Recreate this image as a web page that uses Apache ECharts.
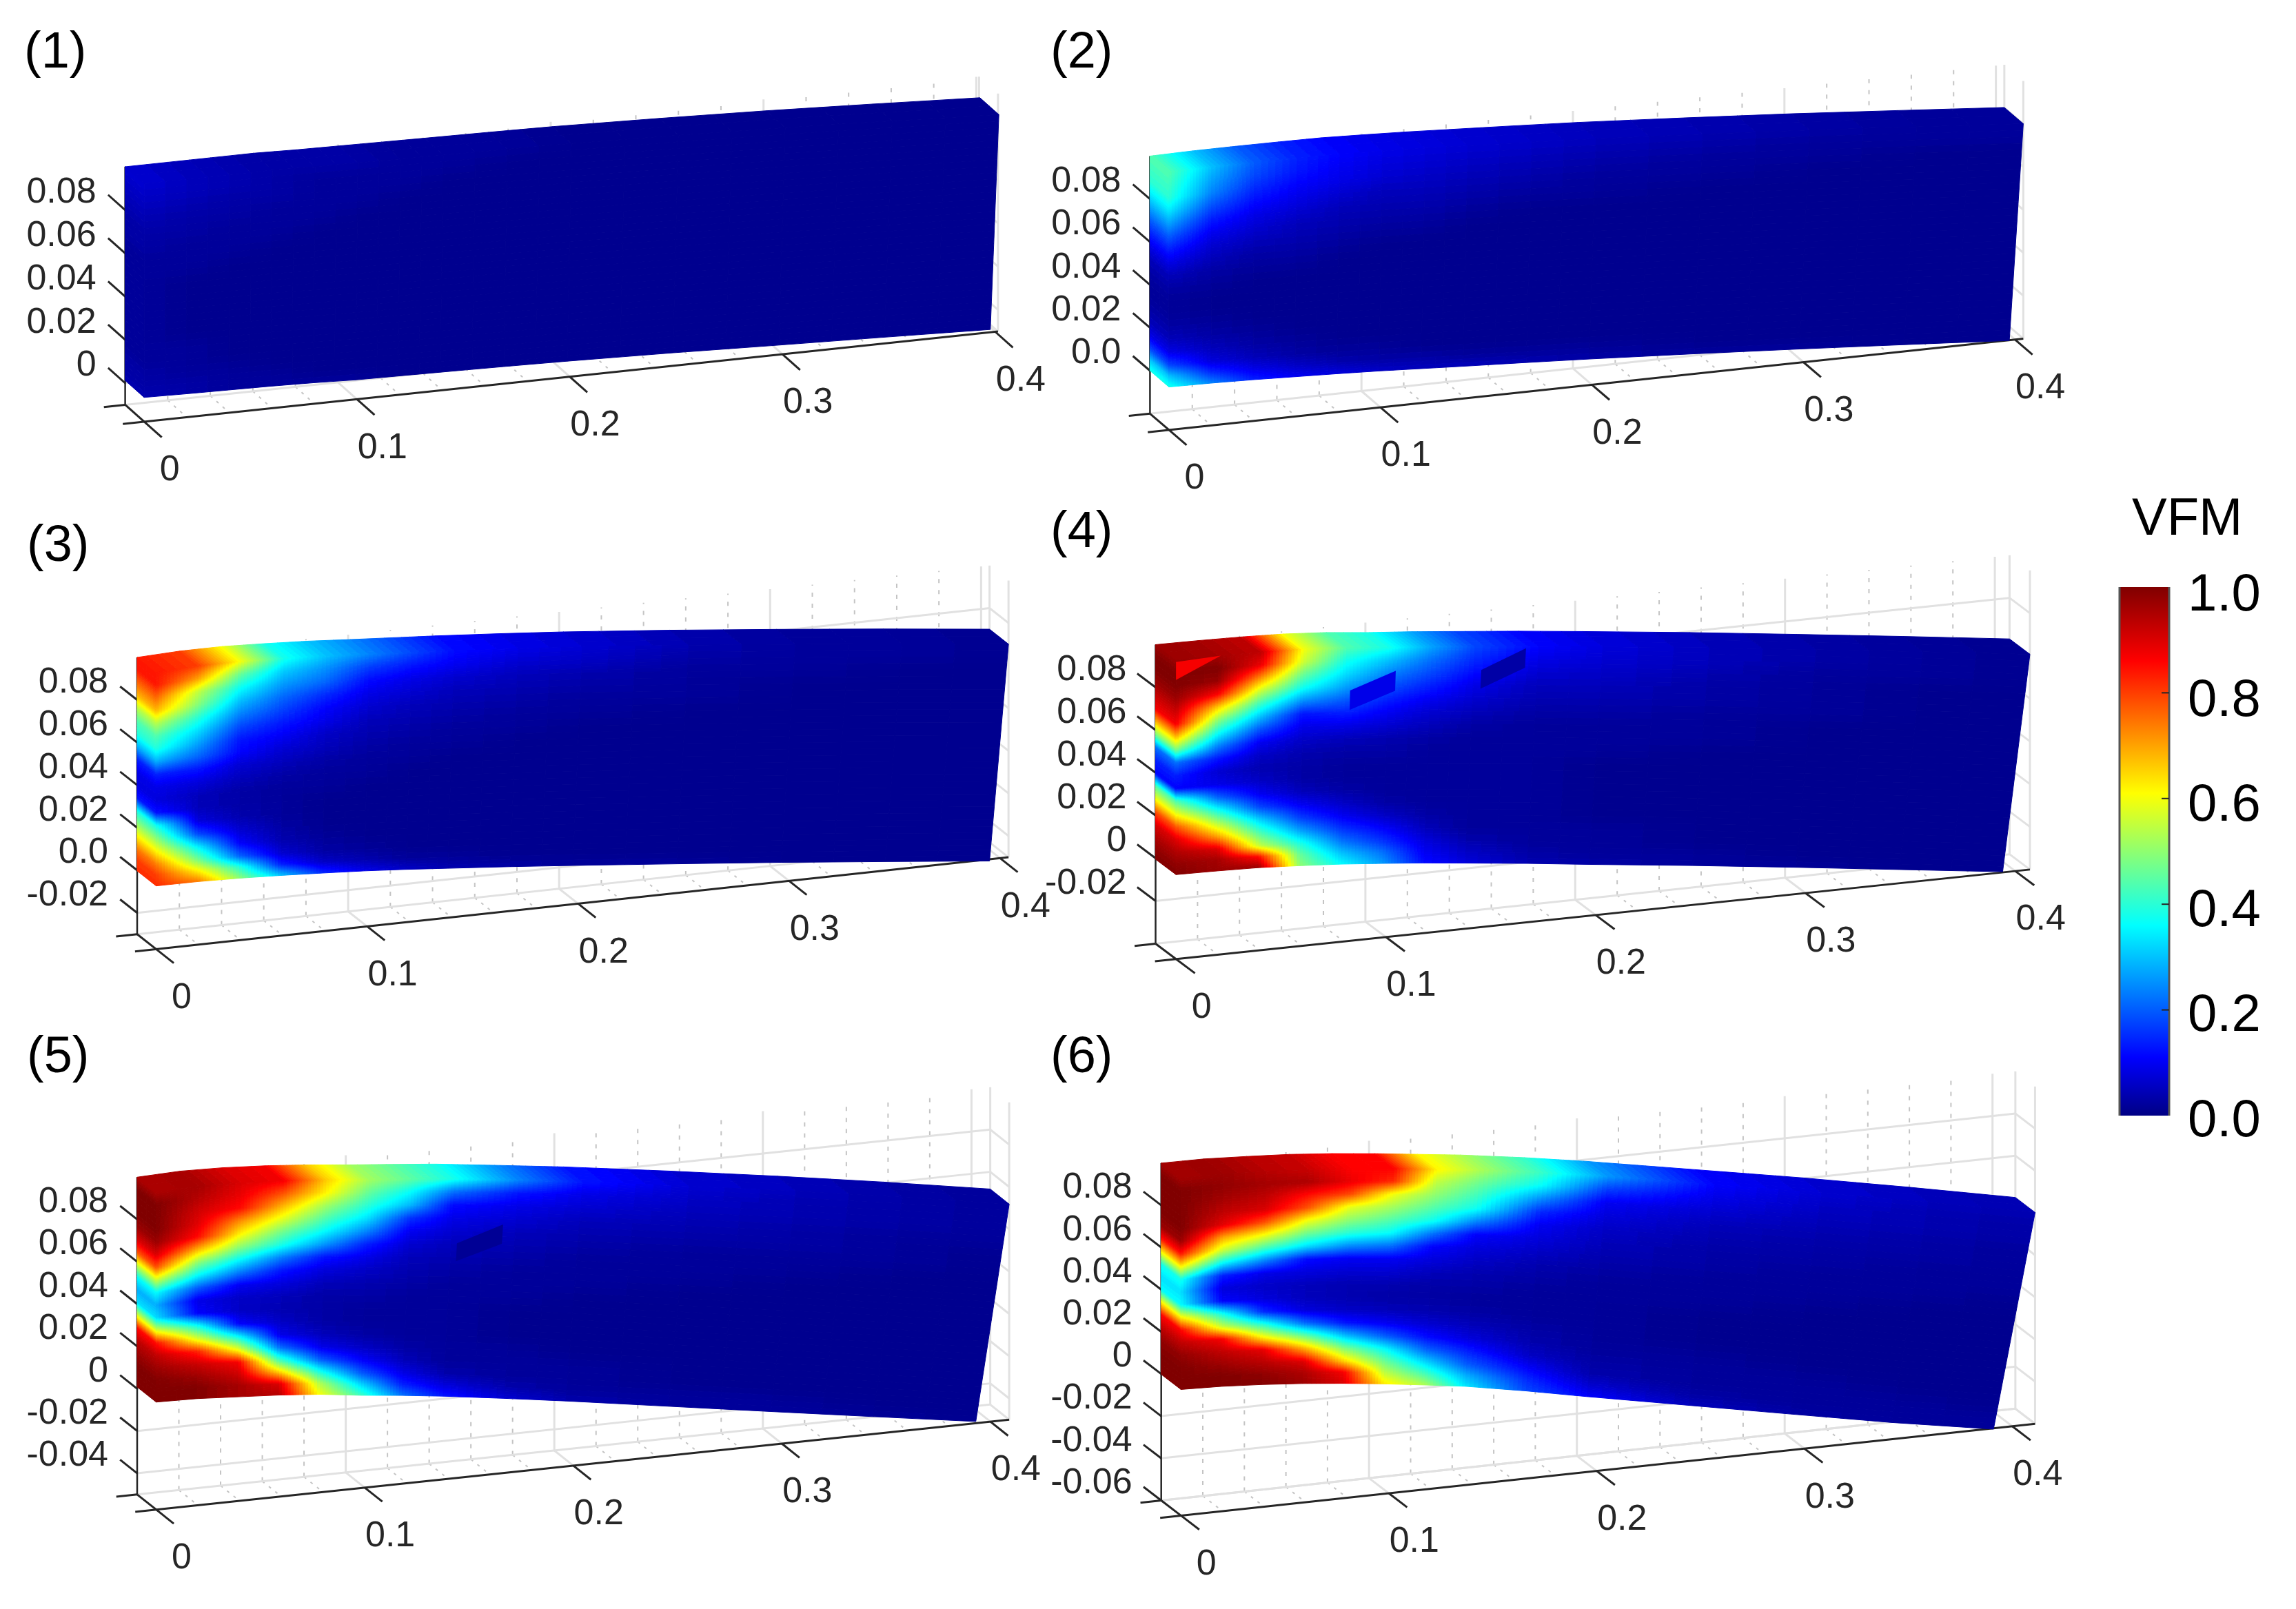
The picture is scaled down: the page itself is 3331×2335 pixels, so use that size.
<!DOCTYPE html>
<html><head><meta charset="utf-8">
<style>html,body{margin:0;padding:0;background:#fff}#c{width:3331px;height:2335px}</style>
<script src="https://cdn.jsdelivr.net/npm/echarts@6/dist/echarts.min.js"></script>
</head><body><div id="c"></div>
<script>
// ---------- data ----------
const PANEL_TITLES = ['(1)','(2)','(3)','(4)','(5)','(6)'];
const X_TICKS = [0,0.1,0.2,0.3,0.4];
const X_LABELS = ['0','0.1','0.2','0.3','0.4'];
const X_MINOR = [0.02,0.04,0.06,0.08,0.12,0.14,0.16,0.18,0.22,0.24,0.26,0.28,0.32,0.34,0.36,0.38];
const Z_TICKS_1 = [0,0.02,0.04,0.06,0.08];
const Z_LABELS_1 = ['0','0.02','0.04','0.06','0.08'];
const Z_TICKS_2 = [0,0.02,0.04,0.06,0.08];
const Z_LABELS_2 = ['0.0','0.02','0.04','0.06','0.08'];
const Z_TICKS_3 = [-0.02,0,0.02,0.04,0.06,0.08];
const Z_LABELS_3 = ['-0.02','0.0','0.02','0.04','0.06','0.08'];
const Z_TICKS_4 = [-0.02,0,0.02,0.04,0.06,0.08];
const Z_LABELS_4 = ['-0.02','0','0.02','0.04','0.06','0.08'];
const Z_TICKS_5 = [-0.04,-0.02,0,0.02,0.04,0.06,0.08];
const Z_LABELS_5 = ['-0.04','-0.02','0','0.02','0.04','0.06','0.08'];
const Z_TICKS_6 = [-0.06,-0.04,-0.02,0,0.02,0.04,0.06,0.08];
const Z_LABELS_6 = ['-0.06','-0.04','-0.02','0','0.02','0.04','0.06','0.08'];
const FLOOR_Z = [-0.01,-0.02,-0.03,-0.04,-0.05,-0.06];
const WALL_TOP_Z = 0.1;
const X_MAX = [0.4013,0.404,0.404,0.407,0.409,0.411];
const TIP_X_TOP = [0.4017,0.404,0.404,0.407,0.409,0.411];
const TIP_X_BOTTOM = [0.3977,0.3974,0.395,0.394,0.393,0.391];

// stations along the length and across the height of the surface
const X_STATIONS = [0,0.02,0.04,0.06,0.08,0.1,0.12,0.14,0.17,0.2,0.25,0.3,0.35,0.4];
const V_STATIONS = [1,0.94,0.88,0.82,0.76,0.7,0.64,0.58,0.52,0.46,0.4,0.34,0.28,0.22,0.16,0.1,0.05,0];

// upper and lower edge height of the surface at each X station
const EDGE_TOP_1 = [.1,.1,.1,.1,.0995,.0992,.0989,.0986,.0982,.0977,.0963,.0946,.0925,.0902];
const EDGE_BOT_1 = [.0012,.0008,.0005,.0002,-.0003,-.001,-.0013,-.0016,-.0021,-.0027,-.004,-.0056,-.0071,-.0087];
const EDGE_TOP_2 = [.1,.1003,.1003,.1002,.1,.0993,.0985,.0975,.096,.0944,.0912,.0878,.084,.0801];
const EDGE_BOT_2 = [0,-.0003,-.0008,-.0015,-.0022,-.003,-.004,-.005,-.0064,-.0079,-.0107,-.0137,-.0169,-.0202];
const EDGE_TOP_3 = [.1,.1008,.1008,.1,.099,.0976,.0963,.095,.0928,.0904,.0858,.0808,.0756,.0701];
const EDGE_BOT_3 = [-.0003,-.0004,-.0009,-.0017,-.0027,-.0038,-.0052,-.0068,-.0092,-.0118,-.0163,-.0209,-.0258,-.0308];
const EDGE_TOP_4 = [.1,.0998,.0994,.0987,.0973,.0952,.0935,.0915,.0885,.0852,.0795,.0734,.0672,.0608];
const EDGE_BOT_4 = [-.0005,-.0008,-.0013,-.0024,-.0037,-.0054,-.0072,-.0093,-.0125,-.016,-.0216,-.0275,-.0336,-.0397];
const EDGE_TOP_5 = [.1,.1007,.1002,.099,.0973,.0952,.0933,.0913,.0875,.0836,.0763,.0686,.0605,.0519];
const EDGE_BOT_5 = [.0008,.0004,-.0008,-.002,-.0037,-.0062,-.0083,-.0107,-.0148,-.0191,-.0267,-.0343,-.0418,-.0492];
const EDGE_TOP_6 = [.1,.0998,.0988,.0976,.0958,.0936,.0911,.0886,.0841,.079,.0697,.0604,.0505,.0402];
const EDGE_BOT_6 = [-.0002,-.0008,-.002,-.0036,-.0056,-.0079,-.0105,-.0132,-.0185,-.0243,-.0336,-.0429,-.0521,-.0604];

// VFM read at every station: one row per X station, one value per V station
const VFM_1 = [
[.07,.06,.05,.04,.03,.03,.02,.02,.02,.02,.02,.02,.02,.02,.02,.03,.03,.04],
[.05,.05,.04,.03,.03,.02,.02,.02,.01,.01,.01,.01,.01,.02,.02,.02,.03,.03],
[.04,.04,.03,.03,.02,.02,.02,.01,.01,.01,.01,.01,.01,.01,.01,.02,.02,.02],
[.03,.03,.03,.02,.02,.02,.01,.01,.01,.01,.01,.01,.01,.01,.01,.01,.02,.02],
[.03,.02,.02,.02,.02,.01,.01,.01,.01,.01,.01,.01,.01,.01,.01,.01,.01,.02],
[.03,.02,.02,.02,.01,.01,.01,.01,.01,.01,.01,.01,.01,.01,.01,.01,.01,.02],
[.02,.02,.02,.01,.01,.01,.01,.01,.01,.01,.01,.01,.01,.01,.01,.01,.01,.01],
[.02,.02,.01,.01,.01,.01,.01,.01,.01,.01,.01,.01,.01,.01,.01,.01,.01,.01],
[.02,.01,.01,.01,.01,.01,.01,.01,.01,.01,.01,.01,.01,.01,.01,.01,.01,.01],
[.01,.01,.01,.01,.01,.01,.01,.01,.01,.01,.01,.01,.01,.01,.01,.01,.01,.01],
[.01,.01,.01,.01,.01,.01,.01,.01,.01,.01,.01,.01,.01,.01,.01,.01,.01,.01],
[.01,.01,.01,.01,.01,.01,.01,.01,.01,.01,.01,.01,.01,.01,.01,.01,.01,.01],
[.01,.01,.01,.01,.01,.01,.01,.01,.01,.01,.01,.01,.01,.01,.01,.01,.01,.01],
[.01,.01,.01,.01,.01,.01,.01,.01,.01,.01,.01,.01,.01,.01,.01,.01,.01,.01]];
const VFM_2 = [
[.44,.42,.40,.34,.27,.20,.14,.09,.05,.03,.02,.02,.03,.05,.09,.18,.30,.38],
[.30,.27,.24,.19,.14,.10,.07,.05,.03,.02,.01,.01,.02,.03,.05,.08,.15,.24],
[.20,.18,.15,.12,.09,.07,.05,.03,.02,.01,.01,.01,.01,.02,.03,.05,.09,.14],
[.14,.13,.11,.09,.07,.05,.04,.03,.02,.01,.01,.01,.01,.01,.02,.03,.06,.10],
[.11,.10,.09,.07,.05,.04,.03,.02,.01,.01,.01,.01,.01,.01,.01,.02,.04,.08],
[.09,.08,.07,.05,.04,.03,.02,.01,.01,.01,.01,.01,.01,.01,.01,.02,.03,.06],
[.08,.07,.06,.05,.04,.03,.02,.01,.01,.01,.01,.01,.01,.01,.01,.01,.03,.05],
[.07,.06,.05,.04,.03,.02,.01,.01,.01,.01,.01,.01,.01,.01,.01,.01,.02,.05],
[.06,.05,.04,.03,.02,.01,.01,.01,.01,.01,.01,.01,.01,.01,.01,.01,.02,.04],
[.05,.04,.03,.02,.02,.01,.01,.01,.01,.01,.01,.01,.01,.01,.01,.01,.02,.03],
[.04,.03,.02,.02,.01,.01,.01,.01,.01,.01,.01,.01,.01,.01,.01,.01,.01,.02],
[.03,.02,.02,.01,.01,.01,.01,.01,.01,.01,.01,.01,.01,.01,.01,.01,.01,.02],
[.02,.02,.01,.01,.01,.01,.01,.01,.01,.01,.01,.01,.01,.01,.01,.01,.01,.01],
[.02,.02,.01,.01,.01,.01,.01,.01,.01,.01,.01,.01,.01,.01,.01,.01,.01,.01]];
const VFM_3 = [
[.84,.84,.76,.68,.54,.44,.39,.28,.14,.09,.08,.13,.38,.50,.62,.74,.80,.82],
[.80,.70,.55,.49,.40,.33,.27,.21,.13,.08,.05,.05,.08,.18,.35,.48,.62,.74],
[.60,.46,.37,.30,.24,.18,.13,.11,.07,.05,.03,.03,.04,.07,.11,.21,.40,.50],
[.38,.31,.26,.21,.17,.13,.10,.07,.05,.03,.02,.02,.02,.03,.04,.07,.14,.30],
[.30,.25,.21,.15,.11,.09,.06,.05,.03,.02,.02,.01,.01,.01,.02,.03,.06,.15],
[.24,.17,.12,.09,.07,.05,.04,.03,.02,.02,.01,.01,.01,.01,.01,.02,.04,.09],
[.18,.13,.09,.07,.05,.04,.03,.02,.02,.01,.01,.01,.01,.01,.01,.01,.02,.06],
[.12,.10,.07,.05,.04,.03,.02,.02,.01,.01,.01,.01,.01,.01,.01,.01,.02,.04],
[.09,.07,.05,.04,.03,.02,.02,.01,.01,.01,.01,.01,.01,.01,.01,.01,.01,.03],
[.07,.06,.04,.03,.02,.02,.01,.01,.01,.01,.01,.01,.01,.01,.01,.01,.01,.02],
[.04,.03,.02,.02,.02,.01,.01,.01,.01,.01,.01,.01,.01,.01,.01,.01,.01,.02],
[.02,.02,.02,.01,.01,.01,.01,.01,.01,.01,.01,.01,.01,.01,.01,.01,.01,.01],
[.02,.02,.01,.01,.01,.01,.01,.01,.01,.01,.01,.01,.01,.01,.01,.01,.01,.01],
[.01,.01,.01,.01,.01,.01,.01,.01,.01,.01,.01,.01,.01,.01,.01,.01,.01,.01]];
const VFM_4 = [
[.97,1,1,.97,.92,.87,.68,.48,.22,.14,.11,.44,.60,.78,.90,.95,.98,1],
[.96,1,.97,.86,.66,.50,.37,.24,.13,.07,.09,.21,.38,.54,.70,.90,.96,.97],
[.93,.88,.72,.56,.42,.30,.19,.10,.06,.04,.06,.10,.18,.32,.44,.56,.85,.97],
[.60,.56,.46,.37,.25,.13,.09,.06,.04,.03,.03,.05,.10,.17,.27,.39,.46,.50],
[.44,.38,.33,.27,.20,.14,.09,.05,.03,.02,.02,.03,.06,.10,.16,.23,.30,.36],
[.38,.30,.24,.19,.14,.10,.07,.04,.03,.02,.02,.02,.03,.06,.11,.16,.22,.26],
[.27,.22,.18,.14,.10,.07,.05,.03,.02,.02,.02,.02,.02,.03,.05,.08,.10,.12],
[.18,.15,.12,.09,.07,.05,.03,.02,.02,.02,.02,.02,.02,.02,.02,.04,.06,.08],
[.11,.09,.07,.05,.04,.03,.02,.02,.02,.02,.02,.02,.02,.02,.02,.02,.03,.04],
[.08,.07,.06,.05,.04,.03,.02,.02,.02,.01,.01,.01,.01,.01,.02,.02,.02,.03],
[.05,.05,.04,.03,.03,.02,.02,.02,.01,.01,.01,.01,.01,.01,.01,.01,.02,.02],
[.03,.03,.02,.02,.02,.02,.01,.01,.01,.01,.01,.01,.01,.01,.01,.01,.01,.02],
[.02,.02,.02,.01,.01,.01,.01,.01,.01,.01,.01,.01,.01,.01,.01,.01,.01,.01],
[.01,.01,.01,.01,.01,.01,.01,.01,.01,.01,.01,.01,.01,.01,.01,.01,.01,.01]];
const VFM_5 = [
[.95,1,1,1,.97,.90,.78,.56,.36,.28,.33,.58,.85,.93,.97,1,1,1],
[.96,.94,.91,.89,.85,.68,.50,.36,.20,.09,.11,.38,.58,.83,.92,.97,1,1],
[.90,.88,.85,.72,.62,.50,.36,.23,.10,.06,.06,.11,.36,.59,.87,.92,.96,.96],
[.87,.78,.68,.58,.47,.38,.23,.13,.08,.05,.04,.06,.09,.22,.43,.68,.90,.94],
[.66,.62,.52,.44,.36,.26,.13,.08,.05,.03,.03,.03,.05,.09,.20,.39,.53,.60],
[.52,.46,.40,.33,.24,.14,.09,.06,.04,.03,.02,.02,.03,.06,.11,.20,.32,.42],
[.45,.36,.29,.16,.10,.07,.05,.04,.03,.02,.02,.02,.02,.03,.05,.09,.14,.22],
[.38,.22,.12,.09,.07,.05,.04,.03,.02,.02,.02,.02,.02,.02,.02,.04,.08,.13],
[.24,.13,.09,.07,.05,.04,.03,.02,.02,.02,.01,.01,.01,.02,.02,.02,.04,.07],
[.13,.09,.07,.05,.04,.03,.02,.02,.02,.01,.01,.01,.01,.01,.02,.02,.02,.04],
[.07,.06,.05,.04,.03,.02,.02,.02,.01,.01,.01,.01,.01,.01,.01,.01,.02,.02],
[.05,.04,.04,.03,.03,.02,.02,.01,.01,.01,.01,.01,.01,.01,.01,.01,.02,.02],
[.03,.03,.03,.02,.02,.02,.01,.01,.01,.01,.01,.01,.01,.01,.01,.01,.01,.02],
[.02,.02,.02,.02,.01,.01,.01,.01,.01,.01,.01,.01,.01,.01,.01,.01,.01,.01]];
const VFM_6 = [
[.96,1,1,1,1,.97,.84,.62,.38,.33,.36,.62,.86,.93,.98,1,1,1],
[.97,.98,.96,.93,.89,.70,.56,.36,.14,.08,.11,.38,.56,.87,.93,.97,1,1],
[.94,.96,.93,.90,.78,.60,.43,.24,.09,.06,.08,.15,.40,.62,.89,.94,.98,1],
[.92,.95,.85,.78,.60,.47,.33,.12,.08,.05,.05,.08,.22,.47,.70,.90,.95,.97],
[.86,.88,.79,.59,.50,.40,.25,.10,.07,.04,.04,.06,.13,.30,.49,.66,.87,.90],
[.86,.82,.60,.52,.44,.36,.22,.10,.07,.04,.03,.05,.10,.20,.36,.47,.55,.63],
[.62,.55,.50,.44,.37,.22,.11,.08,.05,.03,.03,.04,.07,.12,.21,.33,.43,.53],
[.53,.47,.42,.37,.24,.11,.08,.06,.04,.03,.02,.03,.05,.08,.14,.20,.28,.34],
[.41,.36,.25,.15,.10,.08,.06,.04,.03,.02,.02,.02,.03,.04,.06,.11,.15,.18],
[.26,.17,.10,.08,.06,.05,.04,.03,.02,.02,.02,.02,.02,.02,.03,.04,.07,.11],
[.11,.09,.07,.05,.04,.03,.03,.02,.02,.02,.01,.01,.01,.02,.02,.02,.03,.05],
[.07,.06,.05,.04,.03,.03,.02,.02,.02,.01,.01,.01,.01,.01,.02,.02,.02,.03],
[.05,.04,.04,.03,.03,.02,.02,.02,.01,.01,.01,.01,.01,.01,.01,.02,.02,.02],
[.04,.03,.03,.02,.02,.02,.02,.01,.01,.01,.01,.01,.01,.01,.01,.01,.02,.02]];

// small discoloured facets on the surface: value, then four (x, v) corners
const FACETS_4 = [
 [.09, .0821,.803, .1033,.893, .1033,.80, .0821,.7125],
 [.03, .1435,.893, .164,.992, .164,.902, .1435,.806],
 [.87, 0,.907, 0,.99, .021,1, .021,1]];
const FACETS_5 = [[.015, .1427,.705, .164,.797, .164,.708, .1427,.623]];

const COLORBAR_TICKS = [0.2,0.4,0.6,0.8];
const COLORBAR_LABELS = [[0,'0.0'],[0.2,'0.2'],[0.4,'0.4'],[0.6,'0.6'],[0.8,'0.8'],[1,'1.0']];
const JET_STOPS = [[0,[0,0,132]],[.11,[0,0,255]],[.36,[0,255,255]],[.61,[255,255,0]],[.86,[255,0,0]],[1,[128,0,0]]];

// ---------- view of each panel (orthographic) ----------
const VIEWS = [
 {o:[181.6,556.0], ex:[308.7,-32.6], ey:[27.5,24.5], ez:-62.8},
 {o:[1668.4,538.0],ex:[306.8,-32.8], ey:[27.5,23.6], ez:-62.3},
 {o:[199.0,1263.0],ex:[306.1,-33.0], ey:[27.5,21.7], ez:-61.8},
 {o:[1676.5,1245.5],ex:[304.4,-31.9],ey:[29.6,22.2], ez:-62.0},
 {o:[199.0,2015.3],ex:[302.6,-31.9], ey:[27.5,21.9], ez:-61.4},
 {o:[1684.7,1993.9],ex:[301.5,-32.4],ey:[28.6,21.9], ez:-61.2}
];
const TITLE_POS = [[30,36],[1519,36],[34,752],[1519,732],[34,1494],[1519,1494]];
const Z_TICK_SETS = [Z_TICKS_1,Z_TICKS_2,Z_TICKS_3,Z_TICKS_4,Z_TICKS_5,Z_TICKS_6];
const Z_LABEL_SETS = [Z_LABELS_1,Z_LABELS_2,Z_LABELS_3,Z_LABELS_4,Z_LABELS_5,Z_LABELS_6];
const VFM_SETS = [VFM_1,VFM_2,VFM_3,VFM_4,VFM_5,VFM_6];
const TOP_SETS = [EDGE_TOP_1,EDGE_TOP_2,EDGE_TOP_3,EDGE_TOP_4,EDGE_TOP_5,EDGE_TOP_6];
const BOT_SETS = [EDGE_BOT_1,EDGE_BOT_2,EDGE_BOT_3,EDGE_BOT_4,EDGE_BOT_5,EDGE_BOT_6];
const FACET_SETS = [[],[],[],FACETS_4,FACETS_5,[]];

const FONT = 'Liberation Sans, Arial, sans-serif';
const AXIS_COLOR = '#262626', GRID_COLOR = '#e1e1e1', MINOR_COLOR = '#c4c4c4';

function project(p,x,y,z){
  const v=VIEWS[p];
  return [v.o[0]+x/0.1*v.ex[0]+y*v.ey[0], v.o[1]+x/0.1*v.ex[1]+y*v.ey[1]+z/0.02*v.ez];
}
function jet(t){
  t=Math.max(0,Math.min(1,t));
  for(let i=1;i<JET_STOPS.length;i++){
    if(t<=JET_STOPS[i][0]){
      const a=JET_STOPS[i-1],b=JET_STOPS[i],k=(t-a[0])/(b[0]-a[0]);
      return 'rgb('+[0,1,2].map(c=>Math.round(a[1][c]+(b[1][c]-a[1][c])*k)).join(',')+')';
    }
  }
  return 'rgb(128,0,0)';
}
function edgeAt(arr,x){
  for(let i=1;i<X_STATIONS.length;i++){
    if(x<=X_STATIONS[i]){
      const k=(x-X_STATIONS[i-1])/(X_STATIONS[i]-X_STATIONS[i-1]);
      return arr[i-1]+(arr[i]-arr[i-1])*k;
    }
  }
  return arr[arr.length-1];
}
function surfacePoint(p,x,v,y){
  const zt=edgeAt(TOP_SETS[p],x), zb=edgeAt(BOT_SETS[p],x);
  const xEnd=TIP_X_BOTTOM[p]+(TIP_X_TOP[p]-TIP_X_BOTTOM[p])*v;
  return project(p,x*xEnd/0.4,y,zb+(zt-zb)*v);
}
// node of the folded mesh: column 0 and row 0 lie on the back face
function node(p,c,r){
  const si=Math.max(c-1,0), vi=Math.max(r-1,0);
  const y=(c===0||r===0)?0:1;
  return {pos:surfacePoint(p,X_STATIONS[si],V_STATIONS[vi],y), val:VFM_SETS[p][si][vi]};
}

const cellData=[];
VFM_SETS.forEach((g,p)=>{
  for(let c=0;c<X_STATIONS.length;c++) for(let r=0;r<V_STATIONS.length;r++) cellData.push([p,c,r]);
});
const facetData=[];
FACET_SETS.forEach((fs,p)=>fs.forEach((f,i)=>facetData.push([p,i])));

function renderCell(params,api){
  const p=api.value(0),c=api.value(1),r=api.value(2);
  const a=node(p,c,r),b=node(p,c+1,r),d=node(p,c,r+1),e=node(p,c+1,r+1);
  const vals=[a.val,b.val,d.val,e.val];
  const span=Math.max.apply(null,vals)-Math.min.apply(null,vals);
  const n=Math.max(2,Math.min(14,Math.ceil(span/0.012)));
  const children=[];
  const pt=(s,t)=>api.coord([
    (1-s)*(1-t)*a.pos[0]+s*(1-t)*b.pos[0]+(1-s)*t*d.pos[0]+s*t*e.pos[0],
    (1-s)*(1-t)*a.pos[1]+s*(1-t)*b.pos[1]+(1-s)*t*d.pos[1]+s*t*e.pos[1]]);
  for(let i=0;i<n;i++) for(let j=0;j<n;j++){
    const s=(i+.5)/n,t=(j+.5)/n;
    const val=(1-s)*(1-t)*a.val+s*(1-t)*b.val+(1-s)*t*d.val+s*t*e.val;
    const col=jet(val);
    children.push({type:'polygon',silent:true,
      shape:{points:[pt(i/n,j/n),pt((i+1)/n,j/n),pt((i+1)/n,(j+1)/n),pt(i/n,(j+1)/n)]},
      style:{fill:col,stroke:col,lineWidth:1}});
  }
  return {type:'group',children};
}
function renderFacet(params,api){
  const p=api.value(0),f=FACET_SETS[p][api.value(1)];
  const pts=[];
  for(let i=0;i<4;i++) pts.push(api.coord(surfacePoint(p,f[1+2*i],f[2+2*i],1)));
  return {type:'polygon',silent:true,shape:{points:pts},style:{fill:jet(f[0])}};
}
function renderFrame(params,api){
  const p=api.value(0),fl=FLOOR_Z[p],xm=X_MAX[p],top=WALL_TOP_Z,ch=[];
  const line=(A,B,color,w,dash)=>{
    const s=api.coord(A),t=api.coord(B);
    ch.push({type:'line',silent:true,shape:{x1:s[0],y1:s[1],x2:t[0],y2:t[1]},
      style:{stroke:color,lineWidth:w,lineDash:dash||null,lineCap:'butt'}});
  };
  const text=(P,str,align,size)=>{
    const s=api.coord(P);
    ch.push({type:'text',silent:true,style:{text:str,x:s[0],y:s[1],fill:AXIS_COLOR,
      font:'normal '+size+'px '+FONT,align:align,verticalAlign:'middle'}});
  };
  X_MINOR.forEach(x=>{
    line(project(p,x,0,fl),project(p,x,0,top),MINOR_COLOR,2,[6,10]);
    line(project(p,x,0,fl),project(p,x,1,fl),MINOR_COLOR,2,[4,8]);
  });
  X_TICKS.forEach(x=>{
    if(x>0) line(project(p,x,0,fl),project(p,x,0,top),GRID_COLOR,3);
    if(x>0) line(project(p,x,0,fl),project(p,x,1,fl),GRID_COLOR,3);
  });
  Z_TICK_SETS[p].forEach(z=>{
    line(project(p,0,0,z),project(p,xm,0,z),GRID_COLOR,3);
    line(project(p,xm,0,z),project(p,xm,1,z),GRID_COLOR,3);
  });
  line(project(p,0,0,fl),project(p,xm,0,fl),GRID_COLOR,3);
  line(project(p,xm,0,fl),project(p,xm,1,fl),GRID_COLOR,3);
  line(project(p,xm,0,fl),project(p,xm,0,top),GRID_COLOR,3);
  line(project(p,xm,1,fl),project(p,xm,1,top),GRID_COLOR,3);
  line(project(p,0,0,fl),project(p,0,0,top),AXIS_COLOR,2.5);
  line(project(p,0,0,fl),project(p,0,1,fl),AXIS_COLOR,3);
  line(project(p,-0.01,1,fl),project(p,xm,1,fl),AXIS_COLOR,3);
  line(project(p,-0.01,0,fl),project(p,0,0,fl),AXIS_COLOR,3);
  X_TICKS.forEach((x,i)=>{
    line(project(p,x,1,fl),project(p,x,1.93,fl),AXIS_COLOR,3);
    const q=project(p,x,1,fl);
    text([q[0]+37,q[1]+71],X_LABELS[i],'center',52);
  });
  Z_TICK_SETS[p].forEach((z,i)=>{
    line(project(p,0,0,z),project(p,0,-0.9,z),AXIS_COLOR,3);
    const q=project(p,0,0,z);
    text([q[0]-42,q[1]-25],Z_LABEL_SETS[p][i],'right',52);
  });
  return {type:'group',children:ch};
}
function renderBar(params,api){
  const bl=api.coord([0,0]),tr=api.coord([1,1]);
  const stops=JET_STOPS.map(s=>({offset:1-s[0],color:'rgb('+s[1].join(',')+')'})).reverse();
  const ch=[
    {type:'rect',silent:true,shape:{x:bl[0],y:tr[1],width:tr[0]-bl[0],height:bl[1]-tr[1]},
     style:{fill:new echarts.graphic.LinearGradient(0,0,0,1,stops)}},
    {type:'line',silent:true,shape:{x1:bl[0],y1:tr[1],x2:bl[0],y2:bl[1]},style:{stroke:'#555',lineWidth:3}},
    {type:'line',silent:true,shape:{x1:tr[0],y1:tr[1],x2:tr[0],y2:bl[1]},style:{stroke:'#555',lineWidth:3}}];
  COLORBAR_TICKS.forEach(t=>{
    const q=api.coord([1,t]);
    ch.push({type:'line',silent:true,shape:{x1:q[0]-11,y1:q[1],x2:q[0],y2:q[1]},style:{stroke:AXIS_COLOR,lineWidth:2}});
  });
  COLORBAR_LABELS.forEach(l=>{
    const q=api.coord([1,l[0]]);
    ch.push({type:'text',silent:true,style:{text:l[1],x:q[0]+27,y:q[1]+9+4*l[0],fill:'#000',
      font:'normal 76px '+FONT,align:'left',verticalAlign:'middle'}});
  });
  return {type:'group',children:ch};
}

const chart=echarts.init(document.getElementById('c'),null,{renderer:'canvas',width:3331,height:2335});
const titles=PANEL_TITLES.map((t,i)=>({text:t,left:TITLE_POS[i][0],top:TITLE_POS[i][1],
  textStyle:{fontFamily:FONT,fontSize:74,fontWeight:'normal',color:'#000'}}));
titles.push({text:'VFM',left:3088,top:712,textStyle:{fontFamily:FONT,fontSize:76,fontWeight:'normal',color:'#000'}});

chart.setOption({
  animation:false,
  backgroundColor:'#fff',
  title:titles,
  grid:[{left:0,top:0,width:3331,height:2335,show:false},
        {left:3075,top:852,width:72,height:767,show:false}],
  xAxis:[{type:'value',gridIndex:0,min:0,max:3331,show:false},
         {type:'value',gridIndex:1,min:0,max:1,show:false}],
  yAxis:[{type:'value',gridIndex:0,min:0,max:2335,inverse:true,show:false},
         {type:'value',gridIndex:1,min:0,max:1,interval:0.2,position:'right',show:false}],
  series:[
   {type:'custom',name:'frame',coordinateSystem:'cartesian2d',xAxisIndex:0,yAxisIndex:0,z:1,silent:true,
    clip:false,renderItem:renderFrame,data:VFM_SETS.map((g,i)=>[i]),encode:{x:[],y:[]}},
   {type:'custom',name:'VFM surface',coordinateSystem:'cartesian2d',xAxisIndex:0,yAxisIndex:0,z:2,silent:true,
    clip:false,progressive:0,renderItem:renderCell,data:cellData,encode:{x:[],y:[]}},
   {type:'custom',name:'facets',coordinateSystem:'cartesian2d',xAxisIndex:0,yAxisIndex:0,z:3,silent:true,
    clip:false,renderItem:renderFacet,data:facetData,encode:{x:[],y:[]}},
   {type:'custom',name:'colour bar',coordinateSystem:'cartesian2d',xAxisIndex:1,yAxisIndex:1,z:2,silent:true,
    clip:false,renderItem:renderBar,data:[[0,0]],encode:{x:[],y:[]}}
  ]
});
</script></body></html>
